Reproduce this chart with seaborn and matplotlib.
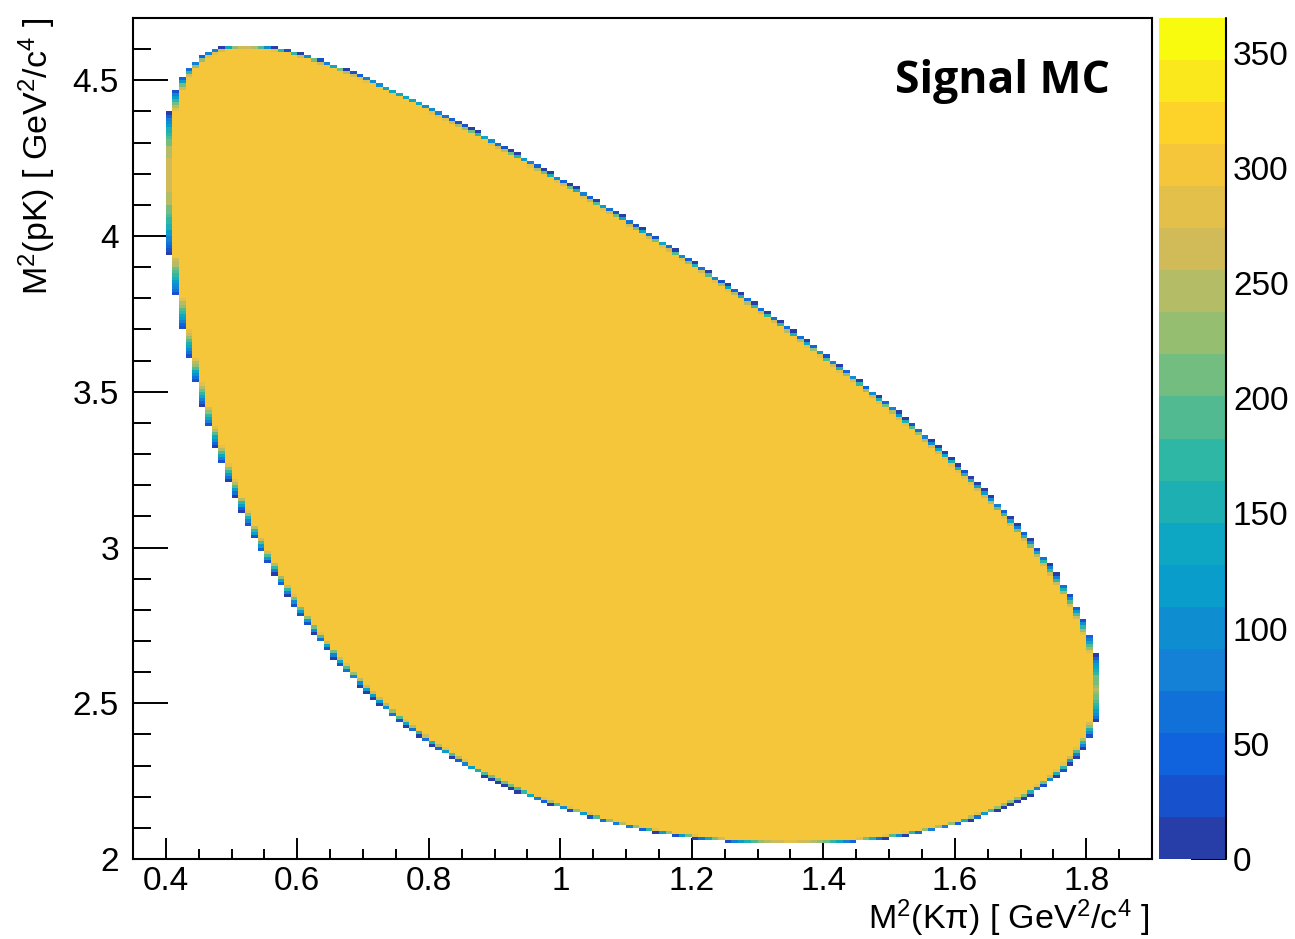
import numpy as np
import pandas as pd
import matplotlib
matplotlib.use("Agg")
import matplotlib.pyplot as plt
import seaborn as sns
from matplotlib.colors import ListedColormap, LinearSegmentedColormap
from matplotlib.ticker import MultipleLocator, FuncFormatter

# Lambda_c+ -> p K- pi+ masses, GeV/c^2 (they define the phase-space region)
m_lc = 2.28646
m_p = 0.938272
m_k = 0.493677
m_pi = 0.139570

# events per full bin inside the region, and top of the palette axis
counts_per_bin = 300
z_max = 365

# histogram binning
x_lo, x_hi, x_bins = 0.35, 1.90, 155
y_lo, y_hi, y_bins = 2.00, 4.70, 270

# ROOT kBird palette
bird_stops = [0.0, 0.125, 0.25, 0.375, 0.5, 0.625, 0.75, 0.875, 1.0]
bird_r = [0.2082, 0.0592, 0.0780, 0.0232, 0.1802, 0.5301, 0.8186, 0.9956, 0.9764]
bird_g = [0.1664, 0.3599, 0.5041, 0.6419, 0.7178, 0.7492, 0.7328, 0.7862, 0.9832]
bird_b = [0.5293, 0.8684, 0.8385, 0.7914, 0.6425, 0.4662, 0.3499, 0.1968, 0.0539]
n_contours = 20

cbar_ticks = [0, 50, 100, 150, 200, 250, 300, 350]


def pk_limits(s_kpi):
    # range of M^2(pK) at a given M^2(Kpi)
    rs = np.sqrt(s_kpi)
    e_k = (s_kpi - m_pi**2 + m_k**2) / (2 * rs)
    e_p = (m_lc**2 - s_kpi - m_p**2) / (2 * rs)
    p_k = np.sqrt(np.clip(e_k**2 - m_k**2, 0, None))
    p_p = np.sqrt(np.clip(e_p**2 - m_p**2, 0, None))
    lo = (e_k + e_p)**2 - (p_k + p_p)**2
    hi = (e_k + e_p)**2 - (p_k - p_p)**2
    ok = (s_kpi >= (m_k + m_pi)**2) & (s_kpi <= (m_lc - m_p)**2)
    return np.where(ok, lo, np.nan), np.where(ok, hi, np.nan)


x_edges = np.linspace(x_lo, x_hi, x_bins + 1)
y_edges = np.linspace(y_lo, y_hi, y_bins + 1)
dx = x_edges[1] - x_edges[0]
dy = y_edges[1] - y_edges[0]

# fraction of each bin lying inside the kinematic region
nsub = 10
xs = x_lo + (np.arange(x_bins * nsub) + 0.5) * dx / nsub
ys = y_lo + (np.arange(y_bins * nsub) + 0.5) * dy / nsub
lo, hi = pk_limits(xs)
inside = (ys[None, :] >= lo[:, None]) & (ys[None, :] <= hi[:, None])
frac = inside.reshape(x_bins, nsub, y_bins, nsub).mean(axis=(1, 3))

xc = 0.5 * (x_edges[:-1] + x_edges[1:])
yc = 0.5 * (y_edges[:-1] + y_edges[1:])
XX, YY = np.meshgrid(xc, yc, indexing="ij")
w = np.round(frac * counts_per_bin)
keep = w > 0
df = pd.DataFrame({"m2_kpi": XX[keep], "m2_pk": YY[keep], "n": w[keep]})

# palette with ROOT's contour colour picking
bird = LinearSegmentedColormap.from_list(
    "bird", list(zip(bird_stops, zip(bird_r, bird_g, bird_b))), N=255)
idx = [int((i + 0.99) * 255 / n_contours) for i in range(n_contours)]
cmap = ListedColormap([bird(min(k, 254) / 254) for k in idx])

sns.set_style("ticks")
plt.rcParams["font.family"] = ["Liberation Sans", "DejaVu Sans"]
plt.rcParams["mathtext.fontset"] = "custom"
plt.rcParams["mathtext.rm"] = "Liberation Sans"
plt.rcParams["mathtext.it"] = "Liberation Sans:italic"
plt.rcParams["mathtext.bf"] = "Liberation Sans:bold"
plt.rcParams["text.color"] = "black"

fig = plt.figure(figsize=(12.95, 9.39), dpi=100)
ax = fig.add_axes([133 / 1295, 80 / 939, (1152 - 133) / 1295, (859 - 18) / 939])
cax = fig.add_axes([1159 / 1295, 80 / 939, (1226 - 1159) / 1295, (859 - 18) / 939])

sns.histplot(data=df, x="m2_kpi", y="m2_pk", weights="n",
             bins=[x_edges, y_edges], cmap=cmap, ax=ax)
mesh = ax.collections[0]
mesh.set_cmap(cmap)
mesh.set_clim(0, z_max)

ax.set_xlim(x_lo, x_hi)
ax.set_ylim(y_lo, y_hi)
ax.set_xlabel("")
ax.set_ylabel("")
ax.xaxis.set_major_locator(MultipleLocator(0.2))
ax.xaxis.set_minor_locator(MultipleLocator(0.05))
ax.yaxis.set_major_locator(MultipleLocator(0.5))
ax.yaxis.set_minor_locator(MultipleLocator(0.1))
fmt = FuncFormatter(lambda v, p: f"{v:g}")
ax.xaxis.set_major_formatter(fmt)
ax.yaxis.set_major_formatter(fmt)
ax.tick_params(axis="both", which="both", direction="in", width=1.4,
               colors="black", labelcolor="black", labelsize=24,
               top=False, right=False)
ax.tick_params(axis="x", which="major", length=15, pad=5)
ax.tick_params(axis="x", which="minor", length=7)
ax.tick_params(axis="y", which="major", length=25, pad=10)
ax.tick_params(axis="y", which="minor", length=13)
for s in ax.spines.values():
    s.set_visible(True)
    s.set_linewidth(1.5)
    s.set_color("black")

cb = fig.colorbar(mesh, cax=cax)
cb.outline.set_visible(False)
cb.set_ticks(cbar_ticks)
cb.ax.minorticks_off()
cax.tick_params(axis="y", direction="in", length=25, width=1.4,
                colors="black", labelcolor="black",
                labelsize=24, pad=5, right=True, left=False)
cax.plot([1, 1], [0, 1], transform=cax.transAxes, color="black",
         lw=1.5, clip_on=False)

fig.text(1150 / 1295, 1 - 918 / 939, "M$^{2}$(Kπ) [ GeV$^{2}$/c$^{4}$ ]",
         ha="right", va="center", fontsize=24.5, color="black")
fig.text(37 / 1295, 1 - 18 / 939, "M$^{2}$(pK) [ GeV$^{2}$/c$^{4}$ ]",
         ha="center", va="top", rotation=90, fontsize=24.5, color="black")
fig.text(1110 / 1295, 1 - 93 / 939, "Signal MC", ha="right", va="baseline",
         fontsize=32, fontweight="bold", family="Open Sans", color="black")

fig.savefig("out.png", dpi=100, facecolor="white")
